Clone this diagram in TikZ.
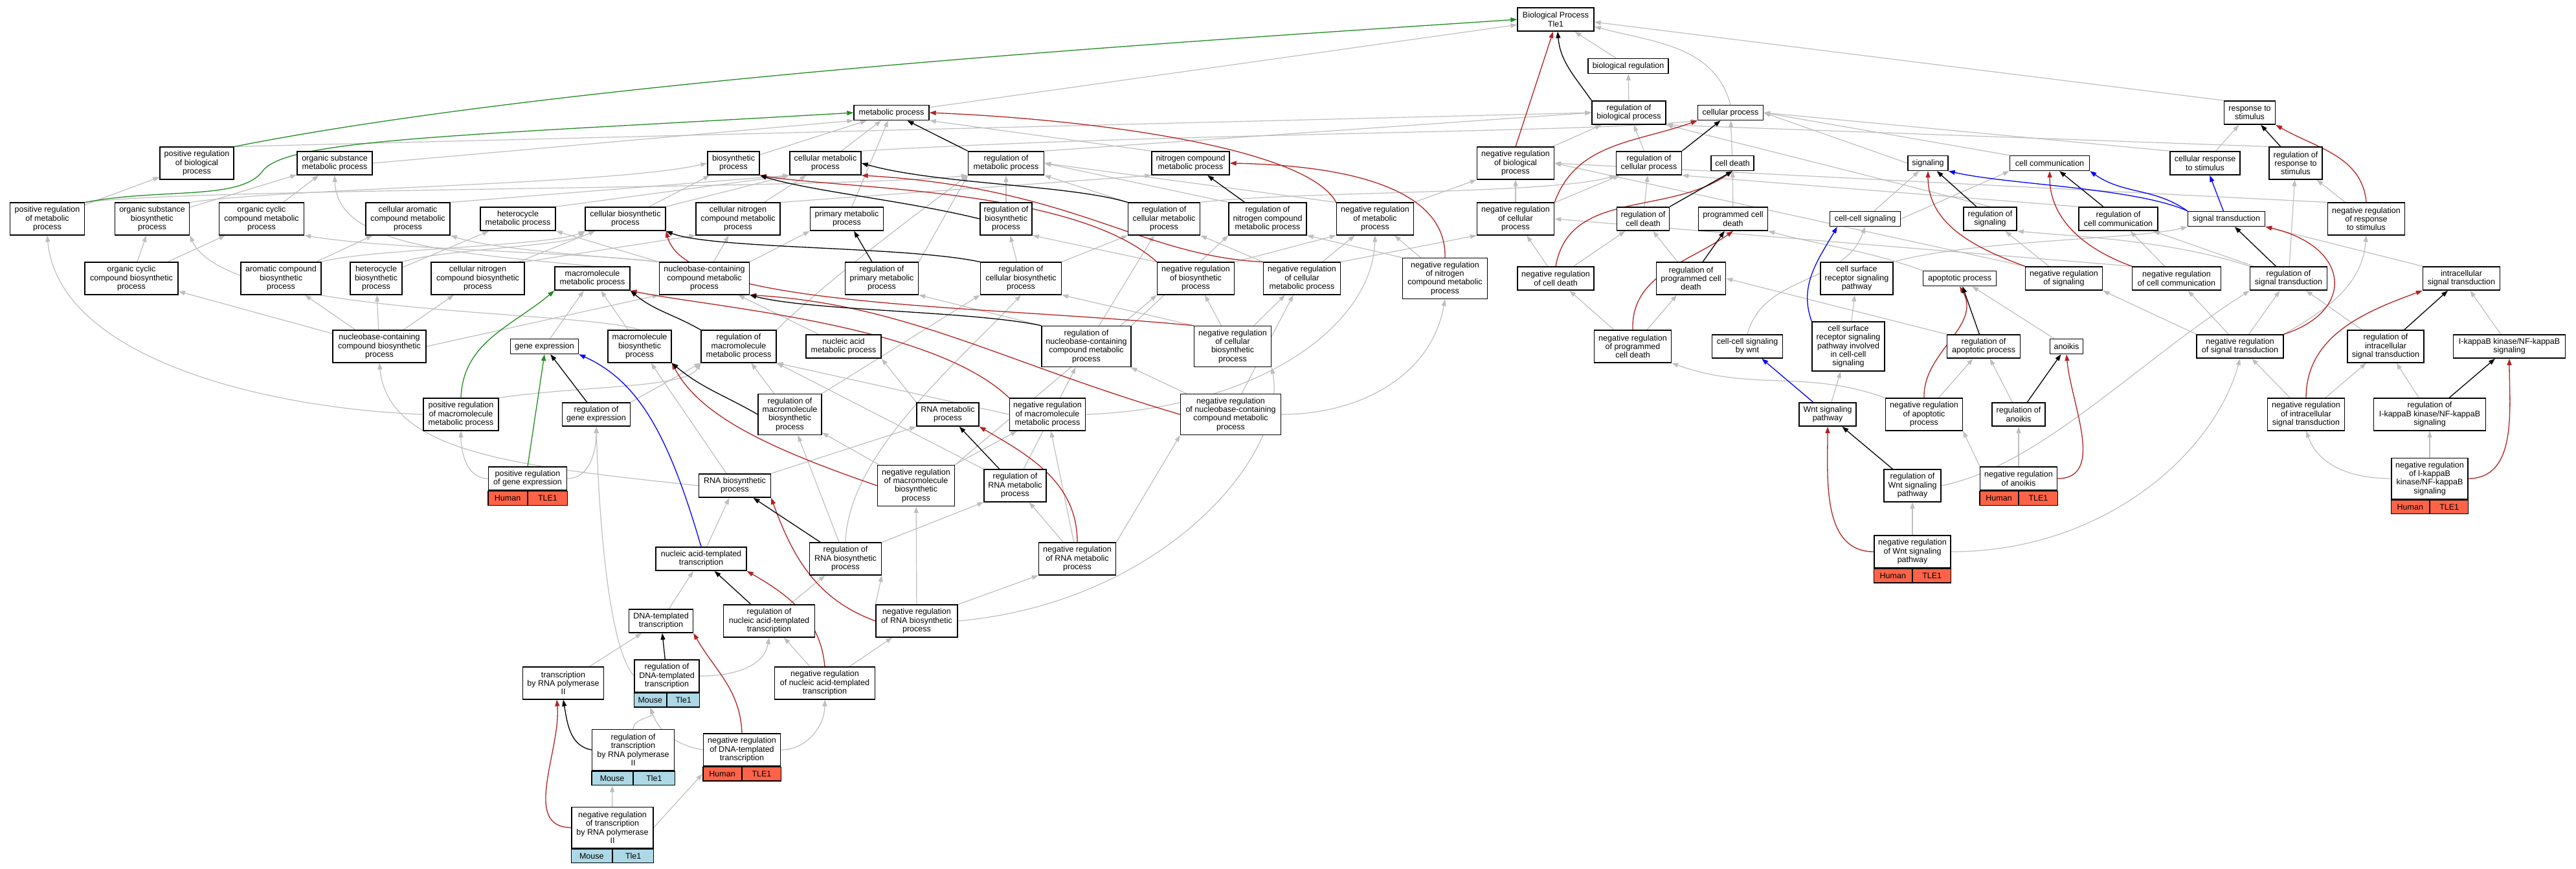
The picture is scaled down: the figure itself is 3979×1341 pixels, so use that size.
\documentclass[tikz,border=0pt]{standalone}
\usepackage{fontspec}
\setmainfont{Liberation Sans}
\usetikzlibrary{arrows.meta,backgrounds,positioning}
\definecolor{edgegray}{RGB}{190,190,190}
\definecolor{negred}{RGB}{178,34,34}
\definecolor{posgreen}{RGB}{34,139,34}
\definecolor{human}{RGB}{255,99,71}
\definecolor{mouse}{RGB}{173,216,230}
\tikzset{
		>={Triangle[length=10pt,width=7pt]},
		goterm/.style={draw=black, line width=1.4pt, fill=white, align=center,
			inner xsep=2pt, inner ysep=2pt, font=\fontsize{12.5}{13.3}\selectfont},
		l1/.style={minimum height=23},
		l2/.style={minimum height=36.3},
		l3/.style={minimum height=49.7},
		l4/.style={minimum height=63},
		l5/.style={minimum height=76.3},
		tagcell/.style={draw=black, line width=1.4pt, minimum height=21.7, inner sep=0pt,
			font=\fontsize{12.5}{13.3}\selectfont},
		isa/.style={->, draw=edgegray, line width=1.2pt},
		reg/.style={->, draw=black, line width=1.3pt},
		negreg/.style={->, draw=negred, line width=1.3pt},
		posreg/.style={->, draw=posgreen, line width=1.3pt},
		partof/.style={->, draw=blue, line width=1.3pt}
	}
% species / gene row under an annotated term
\newcommand{\speciesrow}[5]{%
	\node[tagcell, fill=#5, minimum width=#2, anchor=north east] (#1-sp) at (#1.south) {#3};
	\node[tagcell, fill=#5, minimum width=#2, anchor=north west] (#1-gn) at (#1.south) {#4};}

\begin{document}
\begin{tikzpicture}[x=1pt, y=-1pt]
	\useasboundingbox (0,0) rectangle (3979,1341);
	% top
	\node[goterm, l2, minimum width=118] (bp) at (2403,30) {Biological Process\\Tle1};
	\node[goterm, l1, minimum width=124] (bioReg) at (2515,102) {biological regulation};
	\node[goterm, l1, minimum width=116] (metProc) at (1377,174) {metabolic process};
	\node[goterm, l2, minimum width=114] (regBioProc) at (2516,174) {regulation of\\biological process};
	\node[goterm, l1, minimum width=101] (cellProc) at (2673,174) {cellular process};
	\node[goterm, l2, minimum width=79] (respStim) at (3475,174) {response to\\stimulus};
	% row 2
	\node[goterm, l3, minimum width=114] (posRegBio) at (304,252) {positive regulation\\of biological\\process};
	\node[goterm, l2, minimum width=116] (orgSubMet) at (517,252) {organic substance\\metabolic process};
	\node[goterm, l2, minimum width=80] (bioSyn) at (1133,252) {biosynthetic\\process};
	\node[goterm, l2, minimum width=110] (cellMet) at (1275,252) {cellular metabolic\\process};
	\node[goterm, l2, minimum width=117] (regMet) at (1554,252) {regulation of\\metabolic process};
	\node[goterm, l2, minimum width=120] (nitMet) at (1839,252) {nitrogen compound\\metabolic process};
	\node[goterm, l3, minimum width=119] (negRegBioProc) at (2341,252) {negative regulation\\of biological\\process};
	\node[goterm, l2, minimum width=101] (regCellProc) at (2547,252) {regulation of\\cellular process};
	\node[goterm, l1, minimum width=66] (cellDeath) at (2676,252) {cell death};
	\node[goterm, l1, minimum width=62] (signaling) at (2978,252) {signaling};
	\node[goterm, l1, minimum width=123] (cellComm) at (3166,252) {cell communication};
	\node[goterm, l2, minimum width=108] (cellResp) at (3406,252) {cellular response\\to stimulus};
	\node[goterm, l3, minimum width=82] (regResp) at (3546,252) {regulation of\\response to\\stimulus};
	% row 3
	\node[goterm, l3, minimum width=115] (posRegMet) at (73,338) {positive regulation\\of metabolic\\process};
	\node[goterm, l3, minimum width=115] (orgSubBio) at (235,338) {organic substance\\biosynthetic\\process};
	\node[goterm, l3, minimum width=131] (orgCycMet) at (404,338) {organic cyclic\\compound metabolic\\process};
	\node[goterm, l3, minimum width=130] (cellArom) at (630,338) {cellular aromatic\\compound metabolic\\process};
	\node[goterm, l2, minimum width=116] (hetMet) at (800,338) {heterocycle\\metabolic process};
	\node[goterm, l2, minimum width=124] (cellBio) at (966,338) {cellular biosynthetic\\process};
	\node[goterm, l3, minimum width=130] (cellNitMet) at (1140,338) {cellular nitrogen\\compound metabolic\\process};
	\node[goterm, l2, minimum width=113] (primMet) at (1308,338) {primary metabolic\\process};
	\node[goterm, l3, minimum width=80] (regBio) at (1554,338) {regulation of\\biosynthetic\\process};
	\node[goterm, l3, minimum width=111] (regCellMet) at (1798,338) {regulation of\\cellular metabolic\\process};
	\node[goterm, l3, minimum width=120] (regNitMet) at (1958,338) {regulation of\\nitrogen compound\\metabolic process};
	\node[goterm, l3, minimum width=119] (negRegMet) at (2124,338) {negative regulation\\of metabolic\\process};
	\node[goterm, l3, minimum width=119] (negRegCellProc) at (2341,338) {negative regulation\\of cellular\\process};
	\node[goterm, l2, minimum width=81] (regCellDeath) at (2538,338) {regulation of\\cell death};
	\node[goterm, l2, minimum width=107] (progCellDeath) at (2677,338) {programmed cell\\death};
	\node[goterm, l1, minimum width=109] (cellCellSig) at (2881,338) {cell-cell signaling};
	\node[goterm, l2, minimum width=82] (regSig) at (3074,338) {regulation of\\signaling};
	\node[goterm, l2, minimum width=122] (regCellComm) at (3272,338) {regulation of\\cell communication};
	\node[goterm, l1, minimum width=119] (sigTrans) at (3439,338) {signal transduction};
	\node[goterm, l3, minimum width=119] (negRegResp) at (3655,338) {negative regulation\\of response\\to stimulus};
	% row 4
	\node[goterm, l3, minimum width=144] (orgCycBio) at (203,430) {organic cyclic\\compound biosynthetic\\process};
	\node[goterm, l3, minimum width=124] (aromBio) at (434,430) {aromatic compound\\biosynthetic\\process};
	\node[goterm, l3, minimum width=80] (hetBio) at (581,430) {heterocycle\\biosynthetic\\process};
	\node[goterm, l3, minimum width=144] (cellNitBio) at (738,430) {cellular nitrogen\\compound biosynthetic\\process};
	\node[goterm, l2, minimum width=116] (macroMet) at (915,430) {macromolecule\\metabolic process};
	\node[goterm, l3, minimum width=139] (ncMet) at (1088,430) {nucleobase-containing\\compound metabolic\\process};
	\node[goterm, l3, minimum width=113] (regPrimMet) at (1362,430) {regulation of\\primary metabolic\\process};
	\node[goterm, l3, minimum width=125] (regCellBio) at (1577,430) {regulation of\\cellular biosynthetic\\process};
	\node[goterm, l3, minimum width=119] (negRegBio) at (1847,430) {negative regulation\\of biosynthetic\\process};
	\node[goterm, l3, minimum width=119] (negRegCellMet) at (2011,430) {negative regulation\\of cellular\\metabolic process};
	\node[goterm, l4, minimum width=131] (negRegNitMet) at (2232,430) {negative regulation\\of nitrogen\\compound metabolic\\process};
	\node[goterm, l2, minimum width=118] (negRegCellDeath) at (2403,430) {negative regulation\\of cell death};
	\node[goterm, l3, minimum width=107] (regProgCellDeath) at (2612,430) {regulation of\\programmed cell\\death};
	\node[goterm, l3, minimum width=112] (cellSurfRec) at (2868,430) {cell surface\\receptor signaling\\pathway};
	\node[goterm, l1, minimum width=113] (apoptotic) at (3027,430) {apoptotic process};
	\node[goterm, l2, minimum width=119] (negRegSig) at (3188,430) {negative regulation\\of signaling};
	\node[goterm, l2, minimum width=137] (negRegCellComm) at (3362,430) {negative regulation\\of cell communication};
	\node[goterm, l2, minimum width=119] (regSigTrans) at (3535,430) {regulation of\\signal transduction};
	\node[goterm, l2, minimum width=119] (intraSig) at (3802,430) {intracellular\\signal transduction};
	% row 5
	\node[goterm, l3, minimum width=144] (ncBio) at (586,535) {nucleobase-containing\\compound biosynthetic\\process};
	\node[goterm, l1, minimum width=105] (geneExp) at (841,535) {gene expression};
	\node[goterm, l3, minimum width=98] (macroBio) at (988,535) {macromolecule\\biosynthetic\\process};
	\node[goterm, l3, minimum width=116] (regMacroMet) at (1141,535) {regulation of\\macromolecule\\metabolic process};
	\node[goterm, l2, minimum width=116] (nucAcidMet) at (1303,535) {nucleic acid\\metabolic process};
	\node[goterm, l4, minimum width=138] (regNcMet) at (1678,535) {regulation of\\nucleobase-containing\\compound metabolic\\process};
	\node[goterm, l4, minimum width=119] (negRegCellBio) at (1904,535) {negative regulation\\of cellular\\biosynthetic\\process};
	\node[goterm, l3, minimum width=119] (negRegProgCellDeath) at (2522,535) {negative regulation\\of programmed\\cell death};
	\node[goterm, l2, minimum width=109] (cellCellWnt) at (2699,535) {cell-cell signaling\\by wnt};
	\node[goterm, l5, minimum width=112] (cellSurfCC) at (2855,535) {cell surface\\receptor signaling\\pathway involved\\in cell-cell\\signaling};
	\node[goterm, l2, minimum width=113] (regApop) at (3064,535) {regulation of\\apoptotic process};
	\node[goterm, l1, minimum width=51] (anoikis) at (3192,535) {anoikis};
	\node[goterm, l2, minimum width=134] (negRegSigTrans) at (3460,535) {negative regulation\\of signal transduction};
	\node[goterm, l3, minimum width=118] (regIntraSig) at (3685,535) {regulation of\\intracellular\\signal transduction};
	\node[goterm, l2, minimum width=173] (ikb) at (3876,535) {I-kappaB kinase/NF-kappaB\\signaling};
	% row 6
	\node[goterm, l3, minimum width=116] (posRegMacro) at (712,640) {positive regulation\\of macromolecule\\metabolic process};
	\node[goterm, l2, minimum width=105] (regGeneExp) at (921,640) {regulation of\\gene expression};
	\node[goterm, l4, minimum width=98] (regMacroBio) at (1220,640) {regulation of\\macromolecule\\biosynthetic\\process};
	\node[goterm, l2, minimum width=96] (rnaMet) at (1464,640) {RNA metabolic\\process};
	\node[goterm, l3, minimum width=117] (negRegMacroMet) at (1618,640) {negative regulation\\of macromolecule\\metabolic process};
	\node[goterm, l4, minimum width=155] (negRegNcMet) at (1901,640) {negative regulation\\of nucleobase-containing\\compound metabolic\\process};
	\node[goterm, l2, minimum width=88] (wnt) at (2823,640) {Wnt signaling\\pathway};
	\node[goterm, l3, minimum width=119] (negRegApop) at (2972,640) {negative regulation\\of apoptotic\\process};
	\node[goterm, l2, minimum width=82] (regAnoikis) at (3118,640) {regulation of\\anoikis};
	\node[goterm, l3, minimum width=119] (negRegIntraSig) at (3562,640) {negative regulation\\of intracellular\\signal transduction};
	\node[goterm, l3, minimum width=173] (regIkb) at (3753,640) {regulation of\\I-kappaB kinase/NF-kappaB\\signaling};
	% row 7
	\node[goterm, l2, minimum width=121] (posRegGeneExp) at (815,739) {positive regulation\\of gene expression};
	\node[goterm, l2, minimum width=119] (negRegAnoikis) at (3118,739) {negative regulation\\of anoikis};
	\node[goterm, l4, minimum width=118] (negRegIkb) at (3753,739) {negative regulation\\of I-kappaB\\kinase/NF-kappaB\\signaling};
	\node[goterm, l2, minimum width=111] (rnaBio) at (1135,750) {RNA biosynthetic\\process};
	\node[goterm, l4, minimum width=119] (negRegMacroBio) at (1415,750) {negative regulation\\of macromolecule\\biosynthetic\\process};
	\node[goterm, l3, minimum width=96] (regRnaMet) at (1568,750) {regulation of\\RNA metabolic\\process};
	\node[goterm, l3, minimum width=88] (regWnt) at (2954,750) {regulation of\\Wnt signaling\\pathway};
	% row 8
	\node[goterm, l3, minimum width=118] (negRegWnt) at (2954,852) {negative regulation\\of Wnt signaling\\pathway};
	\node[goterm, l2, minimum width=140] (nucAcidTx) at (1083,863) {nucleic acid-templated\\transcription};
	\node[goterm, l3, minimum width=111] (regRnaBio) at (1306,863) {regulation of\\RNA biosynthetic\\process};
	\node[goterm, l3, minimum width=119] (negRegRnaMet) at (1664,863) {negative regulation\\of RNA metabolic\\process};
	% row 9
	\node[goterm, l2, minimum width=99] (dnaTx) at (1021,959) {DNA-templated\\transcription};
	\node[goterm, l3, minimum width=141] (regNucAcidTx) at (1188,959) {regulation of\\nucleic acid-templated\\transcription};
	\node[goterm, l3, minimum width=126] (negRegRnaBio) at (1416,959) {negative regulation\\of RNA biosynthetic\\process};
	% bottom
	\node[goterm, l3, minimum width=125] (txRnaPol) at (870,1055) {transcription\\by RNA polymerase\\II};
	\node[goterm, l3, minimum width=100] (regDnaTx) at (1030,1044) {regulation of\\DNA-templated\\transcription};
	\node[goterm, l3, minimum width=155] (negRegNucAcidTx) at (1274,1055) {negative regulation\\of nucleic acid-templated\\transcription};
	\node[goterm, l4, minimum width=127] (regTxRnaPol) at (978,1158) {regulation of\\transcription\\by RNA polymerase\\II};
	\node[goterm, l3, minimum width=119] (negRegDnaTx) at (1146,1158) {negative regulation\\of DNA-templated\\transcription};
	\node[goterm, l4, minimum width=126] (negRegTxRnaPol) at (946,1278) {negative regulation\\of transcription\\by RNA polymerase\\II};
	% annotations
	\speciesrow{posRegGeneExp}{60.5}{Human}{TLE1}{human}
	\speciesrow{negRegAnoikis}{59.5}{Human}{TLE1}{human}
	\speciesrow{negRegIkb}{59}{Human}{TLE1}{human}
	\speciesrow{negRegWnt}{59}{Human}{TLE1}{human}
	\speciesrow{regDnaTx}{50}{Mouse}{Tle1}{mouse}
	\speciesrow{regTxRnaPol}{63.5}{Mouse}{Tle1}{mouse}
	\speciesrow{negRegDnaTx}{59.5}{Human}{TLE1}{human}
	\speciesrow{negRegTxRnaPol}{63}{Mouse}{Tle1}{mouse}

	\begin{pgfonlayer}{background}
		% is_a, right half
		\draw[isa] (metProc) -- (bp);
		\draw[isa] (bioReg) -- (bp);
		\draw[isa] (cellProc.north) to[out=105,in=-15] ([yshift=-11pt]bp.east);
		\draw[isa] (respStim.north west) -- ([yshift=-4pt]bp.east);
		\draw[isa] (regBioProc) -- (bioReg);
		\draw[isa] (posRegBio.north east) -- (regBioProc.west);
		\draw[isa] (regMet.north east) -- (regBioProc.west);
		\draw[isa] (negRegBioProc) -- (regBioProc);
		\draw[isa] (regCellProc) -- (regBioProc);
		\draw[isa] (regResp.north west) -- (regBioProc.south east);
		\draw[isa] (regSig.north) -- (regBioProc.south east);
		\draw[isa] (signaling.west) -- (cellProc.east);
		\draw[isa] (cellDeath) -- (cellProc);
		\draw[isa] (cellComm.north west) -- (cellProc.east);
		\draw[isa] (cellResp.north west) -- (cellProc.east);
		\draw[isa] (cellMet.north east) .. controls (1800,205) and (2450,205) .. (cellProc.south west);
		\draw[isa] (cellResp) -- (respStim);
		\draw[isa] (negRegCellProc) -- (negRegBioProc);
		\draw[isa] (negRegCellProc) -- (regCellProc);
		\draw[isa] (regCellDeath) -- (regCellProc);
		\draw[isa] (regCellComm.north west) -- (regCellProc.south east);
		\draw[isa] (regCellMet.north east) .. controls (2000,295) and (2400,300) .. (regCellProc.south west);
		\draw[isa] (negRegCellDeath) -- (negRegCellProc);
		\draw[isa] (negRegCellDeath) -- (regCellDeath);
		\draw[isa] (negRegCellMet.north east) -- (negRegCellProc.south west);
		\draw[isa] (negRegCellComm.north west) -- (negRegCellProc.east);
		\draw[isa] (negRegMet.north east) -- (negRegBioProc.south west);
		\draw[isa] (negRegSig.north west) -- (negRegBioProc.east);
		\draw[isa] (negRegResp.north west) -- (negRegBioProc.east);
		\draw[isa] (progCellDeath) -- (cellDeath);
		\draw[isa] (regProgCellDeath) -- (regCellDeath);
		\draw[isa] (negRegProgCellDeath) -- (negRegCellDeath);
		\draw[isa] (negRegProgCellDeath) -- (regProgCellDeath);
		\draw[isa] (apoptotic.north west) to[out=160,in=-15] (progCellDeath.south east);
		\draw[isa] (regApop.north west) -- (regProgCellDeath.east);
		\draw[isa] (negRegApop) -- (regApop);
		\draw[isa] (negRegApop.north west) to[out=160,in=-20] (negRegProgCellDeath.south east);
		\draw[isa] (anoikis) -- (apoptotic);
		\draw[isa] (regAnoikis) -- (regApop);
		\draw[isa] (negRegAnoikis) -- (regAnoikis);
		\draw[isa] (negRegAnoikis.north west) -- (negRegApop.south east);
		\draw[isa] (cellCellSig) -- (signaling);
		\draw[isa] (cellCellSig.east) -- (cellComm.south west);
		\draw[isa] (cellSurfRec.north east) .. controls (3050,370) and (3300,370) .. (sigTrans.south west);
		\draw[isa] (cellSurfCC) -- (cellSurfRec);
		\draw[isa] (cellCellWnt.north) to[out=75,in=-110] (cellCellSig.south);
		\draw[isa] (wnt) -- (cellSurfCC);
		\draw[isa] (regWnt.east) .. controls (3150,720) and (3300,560) .. (regSigTrans.south west);
		\draw[isa] (negRegWnt) -- (regWnt);
		\draw[isa] (negRegWnt.east) .. controls (3250,852) and (3420,700) .. (negRegSigTrans.south);
		\draw[isa] (negRegSig) -- (regSig);
		\draw[isa] (negRegCellComm) -- (regCellComm);
		\draw[isa] (regSigTrans.north west) .. controls (3350,370) and (3200,365) .. (regSig.south east);
		\draw[isa] (regSigTrans) -- (regCellComm);
		\draw[isa] (regSigTrans) -- (regResp);
		\draw[isa] (intraSig.north west) -- (sigTrans.south east);
		\draw[isa] (negRegSigTrans) -- (regSigTrans);
		\draw[isa] (negRegSigTrans.north west) -- (negRegSig.south east);
		\draw[isa] (negRegSigTrans) -- (negRegCellComm);
		\draw[isa] (negRegSigTrans.north east) to[out=30,in=-95] (negRegResp.south);
		\draw[isa] (negRegResp) -- (regResp);
		\draw[isa] (regIntraSig) -- (regSigTrans);
		\draw[isa] (ikb) -- (intraSig);
		\draw[isa] (negRegIntraSig) -- (negRegSigTrans);
		\draw[isa] (negRegIntraSig) -- (regIntraSig);
		\draw[isa] (regIkb) -- (regIntraSig);
		\draw[isa] (negRegIkb.west) to[out=180,in=-70] (negRegIntraSig.south);
		\draw[isa] (negRegIkb) -- (regIkb);
		% is_a, left half
		\draw[isa] (orgSubMet.east) -- (metProc.south west);
		\draw[isa] (bioSyn) -- (metProc);
		\draw[isa] (cellMet) -- (metProc);
		\draw[isa] (primMet) -- (metProc);
		\draw[isa] (nitMet.north west) -- (metProc.south east);
		\draw[isa] (posRegMet) -- (posRegBio);
		\draw[isa] (posRegMet.north east) .. controls (300,290) and (1300,292) .. (regMet.south west);
		\draw[isa] (orgSubBio) -- (orgSubMet);
		\draw[isa] (orgSubBio.north east) .. controls (450,290) and (950,285) .. (bioSyn.west);
		\draw[isa] (orgCycMet) -- (orgSubMet);
		\draw[isa] (cellArom.north east) -- (cellMet.south west);
		\draw[isa] (hetMet.north east) -- (cellMet.south west);
		\draw[isa] (cellBio) -- (bioSyn);
		\draw[isa] (cellBio.north east) -- (cellMet.south west);
		\draw[isa] (cellNitMet) -- (cellMet);
		\draw[isa] (cellNitMet.north east) -- (nitMet.south west);
		\draw[isa] (regBio) -- (regMet);
		\draw[isa] (regCellMet.north west) -- (regMet.south east);
		\draw[isa] (regNitMet.north west) -- (regMet.east);
		\draw[isa] (negRegMet.north west) -- (regMet.east);
		\draw[isa] (orgCycBio) -- (orgSubBio);
		\draw[isa] (orgCycBio) -- (orgCycMet);
		\draw[isa] (aromBio) -- (cellArom);
		\draw[isa] (aromBio.north east) .. controls (560,385) and (850,380) .. (cellBio.south west);
		\draw[isa] (hetBio) -- (hetMet);
		\draw[isa] (hetBio.north east) .. controls (680,385) and (880,380) .. (cellBio.south west);
		\draw[isa] (cellNitBio) -- (cellBio);
		\draw[isa] (cellNitBio.north east) -- (cellNitMet.south west);
		\draw[isa] (macroMet.north) .. controls (700,390) and (520,380) .. (orgSubMet.south);
		\draw[isa] (ncMet.north west) .. controls (900,390) and (600,385) .. (orgCycMet.south east);
		\draw[isa] (ncMet.north west) .. controls (920,395) and (760,385) .. (cellArom.south east);
		\draw[isa] (ncMet.north west) -- (hetMet.south east);
		\draw[isa] (ncMet) -- (cellNitMet);
		\draw[isa] (ncMet.north east) -- (primMet.south west);
		\draw[isa] (regPrimMet.north east) -- (regMet.south west);
		\draw[isa] (regCellBio) -- (regBio);
		\draw[isa] (regCellBio.north east) -- (regCellMet.south west);
		\draw[isa] (negRegBio.north west) -- (regBio.south east);
		\draw[isa] (negRegBio.north east) -- (negRegMet.south west);
		\draw[isa] (negRegCellMet.north west) -- (regCellMet.south east);
		\draw[isa] (negRegCellMet) -- (negRegMet);
		\draw[isa] (negRegNitMet.north west) -- (regNitMet.south east);
		\draw[isa] (negRegNitMet) -- (negRegMet);
		\draw[isa] (ncBio) -- (orgCycBio);
		\draw[isa] (ncBio) -- (aromBio);
		\draw[isa] (ncBio) -- (hetBio);
		\draw[isa] (ncBio) -- (cellNitBio);
		\draw[isa] (ncBio.east) -- (ncMet.south west);
		\draw[isa] (geneExp) -- (macroMet);
		\draw[isa] (macroBio) -- (macroMet);
		\draw[isa] (macroBio.north) .. controls (900,478) and (350,490) .. (orgSubBio.south east);
		\draw[isa] (regMacroMet.north east) .. controls (1280,430) and (1430,320) .. (regMet.south west);
		\draw[isa] (nucAcidMet) -- (ncMet);
		\draw[isa] (regNcMet) -- (regCellMet);
		\draw[isa] (regNcMet.north east) -- (regNitMet.south west);
		\draw[isa] (regNcMet.north west) -- (regPrimMet.south east);
		\draw[isa] (negRegCellBio.north west) -- (regCellBio.south east);
		\draw[isa] (negRegCellBio) -- (negRegBio);
		\draw[isa] (negRegCellBio) -- (negRegCellMet);
		\draw[isa] (posRegMacro.west) .. controls (400,630) and (90,550) .. (posRegMet.south);
		\draw[isa] (posRegMacro.north east) .. controls (900,595) and (1060,600) .. (regMacroMet.south west);
		\draw[isa] (regGeneExp.north east) -- (regMacroMet.south west);
		\draw[isa] (posRegGeneExp.west) to[out=180,in=-90] (posRegMacro.south);
		\draw[isa] (posRegGeneExp.east) to[out=0,in=-90] (regGeneExp.south);
		\draw[isa] (regMacroBio) -- (regMacroMet);
		\draw[isa] (regMacroBio.north east) -- (regCellBio.south west);
		\draw[isa] (rnaMet.north west) -- (nucAcidMet.south east);
		\draw[isa] (negRegMacroMet.west) -- (regMacroMet.south east);
		\draw[isa] (negRegMacroMet.east) .. controls (1950,630) and (2120,500) .. (negRegMet.south);
		\draw[isa] (negRegNcMet) -- (regNcMet);
		\draw[isa] (negRegNcMet) -- (negRegCellMet);
		\draw[isa] (negRegNcMet.east) to[out=0,in=-100] (negRegNitMet.south);
		\draw[isa] (rnaBio.north east) -- (rnaMet.south west);
		\draw[isa] (rnaBio.west) .. controls (800,720) and (600,700) .. (ncBio.south);
		\draw[isa] (rnaBio) -- (macroBio);
		\draw[isa] (negRegMacroBio) -- (regMacroBio);
		\draw[isa] (negRegMacroBio) -- (negRegMacroMet);
		\draw[isa] (negRegMacroBio.north east) -- (negRegBio.south west);
		\draw[isa] (regRnaMet) -- (regNcMet);
		\draw[isa] (regRnaMet.north west) -- (regMacroMet.south east);
		\draw[isa] (nucAcidTx) -- (rnaBio);
		\draw[isa] (regRnaBio) -- (regMacroBio);
		\draw[isa] (regRnaBio.north east) -- (regRnaMet.south west);
		\draw[isa] (regRnaBio.north) .. controls (1310,700) and (1480,560) .. (regCellBio.south);
		\draw[isa] (negRegRnaMet) -- (regRnaMet);
		\draw[isa] (negRegRnaMet) -- (negRegMacroMet);
		\draw[isa] (negRegRnaMet.north east) -- (negRegNcMet.south west);
		\draw[isa] (negRegRnaBio) -- (negRegMacroBio);
		\draw[isa] (negRegRnaBio.north east) -- (negRegRnaMet.south west);
		\draw[isa] (negRegRnaBio.north west) -- (regRnaBio.south east);
		\draw[isa] (negRegRnaBio.east) .. controls (1800,930) and (1990,700) .. (negRegCellBio.south east);
		\draw[isa] (dnaTx) -- (nucAcidTx);
		\draw[isa] (regNucAcidTx) -- (regRnaBio);
		\draw[isa] (regDnaTx.east) to[out=0,in=-100] (regNucAcidTx.south);
		\draw[isa] (regDnaTx.west) .. controls (940,1000) and (925,800) .. (regGeneExp.south);
		\draw[isa] (negRegNucAcidTx) -- (regNucAcidTx);
		\draw[isa] (negRegNucAcidTx) -- (negRegRnaBio);
		\draw[isa] (txRnaPol) -- (dnaTx);
		\draw[isa] (regTxRnaPol.north) to[out=90,in=-70] (regDnaTx-sp.south);
		\draw[isa] (negRegDnaTx.west) to[out=170,in=-70] (regDnaTx-sp.south);
		\draw[isa] (negRegDnaTx.east) to[out=0,in=-90] (negRegNucAcidTx.south);
		\draw[isa] (negRegTxRnaPol) -- (regTxRnaPol-sp);
		\draw[isa] (negRegTxRnaPol.east) -- (negRegDnaTx-sp.west);
		% negatively regulates
		\draw[negreg] (negRegBioProc.north) -- ([xshift=-4pt]bp.south);
		\draw[negreg] (negRegMet.north west) .. controls (2020,230) and (1700,185) .. (metProc.east);
		\draw[negreg] (negRegCellProc.north east) to[out=70,in=200] (cellProc.south west);
		\draw[negreg] (negRegCellDeath.north) to[out=80,in=215] (cellDeath.south);
		\draw[negreg] (negRegProgCellDeath.north) to[out=92,in=215] (progCellDeath.south);
		\draw[negreg] (negRegNitMet.north) .. controls (2235,280) and (2050,255) .. (nitMet.east);
		\draw[negreg] (negRegBio.north west) .. controls (1660,290) and (1300,292) .. (bioSyn.south east);
		\draw[negreg] (negRegCellMet.north west) .. controls (1760,395) and (1660,290) .. (cellMet.south east);
		\draw[negreg] (negRegCellBio.north west) .. controls (1500,470) and (1060,475) .. (cellBio.south east);
		\draw[negreg] (negRegNcMet.west) .. controls (1550,560) and (1400,470) .. (ncMet.south east);
		\draw[negreg] (negRegMacroMet.north west) .. controls (1440,500) and (1100,475) .. (macroMet.south east);
		\draw[negreg] (negRegMacroBio.west) .. controls (1180,690) and (1080,640) .. (macroBio.south east);
		\draw[negreg] (negRegRnaMet.north) to[out=90,in=-30] (rnaMet.south east);
		\draw[negreg] (negRegRnaBio.west) to[out=160,in=-70] (rnaBio.south east);
		\draw[negreg] (negRegNucAcidTx.north) to[out=95,in=-30] (nucAcidTx.south east);
		\draw[negreg] (negRegDnaTx.north) to[out=92,in=-60] (dnaTx.south east);
		\draw[negreg] (negRegTxRnaPol.west) to[out=180,in=-85] ([xshift=-10pt]txRnaPol.south);
		\draw[negreg] (negRegSig.north west) to[out=160,in=-90] (signaling.south);
		\draw[negreg] (negRegCellComm.north west) to[out=160,in=-90] (cellComm.south);
		\draw[negreg] (negRegSigTrans.north east) .. controls (3640,480) and (3630,380) .. (sigTrans.south east);
		\draw[negreg] (negRegResp.north) to[out=95,in=-30] (respStim.south east);
		\draw[negreg] (negRegApop.north) to[out=92,in=-60] (apoptotic.south);
		\draw[negreg] (negRegAnoikis.east) to[out=0,in=-85] (anoikis.south);
		\draw[negreg] (negRegWnt.west) to[out=180,in=-90] (wnt.south);
		\draw[negreg] (negRegIntraSig.north) to[out=90,in=200] (intraSig.south west);
		\draw[negreg] (negRegIkb.east) to[out=0,in=-90] (ikb.south);
		% regulates
		\draw[reg] (regBioProc.north west) to[out=125,in=-85] ([xshift=3pt]bp.south);
		\draw[reg] (regMet.north west) -- (metProc);
		\draw[reg] (regCellProc.north east) -- (cellProc);
		\draw[reg] (regCellDeath.north east) -- (cellDeath.south);
		\draw[reg] (regProgCellDeath) -- (progCellDeath);
		\draw[reg] (regBio.west) .. controls (1400,310) and (1250,295) .. (bioSyn.south east);
		\draw[reg] (regCellMet.north west) .. controls (1650,285) and (1450,285) .. (cellMet.east);
		\draw[reg] (regNitMet) -- (nitMet);
		\draw[reg] (regPrimMet) -- (primMet);
		\draw[reg] (regCellBio.north west) .. controls (1400,380) and (1100,385) .. (cellBio.south east);
		\draw[reg] (regMacroMet.north west) to[out=150,in=-40] (macroMet.south east);
		\draw[reg] (regNcMet.north west) .. controls (1500,480) and (1250,480) .. (ncMet.south east);
		\draw[reg] (regMacroBio.west) to[out=150,in=-40] (macroBio.south east);
		\draw[reg] (regGeneExp) -- (geneExp);
		\draw[reg] (regRnaMet) -- (rnaMet);
		\draw[reg] (regRnaBio) -- (rnaBio);
		\draw[reg] (regNucAcidTx) -- (nucAcidTx);
		\draw[reg] (regDnaTx) -- (dnaTx);
		\draw[reg] (regTxRnaPol.west) to[out=170,in=-80] (txRnaPol.south);
		\draw[reg] (regSig) -- (signaling);
		\draw[reg] (regCellComm) -- (cellComm);
		\draw[reg] (regSigTrans) -- (sigTrans);
		\draw[reg] (regResp) -- (respStim);
		\draw[reg] (regApop) -- (apoptotic);
		\draw[reg] (regAnoikis) -- (anoikis);
		\draw[reg] (regWnt) -- (wnt);
		\draw[reg] (regIntraSig) -- (intraSig);
		\draw[reg] (regIkb) -- (ikb);
		% positively regulates
		\draw[posreg] (posRegBio.north east) .. controls (900,120) and (1900,60) .. (bp.west);
		\draw[posreg] (posRegMet.north east) .. controls (250,290) and (370,310) .. (405,265)
			.. controls (440,215) and (700,210) .. (metProc.west);
		\draw[posreg] (posRegMacro.north) to[out=88,in=-140] (macroMet.south west);
		\draw[posreg] (posRegGeneExp.north) -- (geneExp.south);
		% part of
		\draw[partof] (nucAcidTx.north) .. controls (1035,680) and (990,590) .. (geneExp.south east);
		\draw[partof] (wnt) -- (cellCellWnt);
		\draw[partof] (cellSurfCC.north west) to[out=110,in=-120] ([xshift=12pt]cellCellSig.south west);
		\draw[partof] (sigTrans.north west) .. controls (3300,290) and (3100,285) .. (signaling.south east);
		\draw[partof] (sigTrans.north west) to[out=145,in=-35] (cellComm.south east);
		\draw[partof] (sigTrans) -- (cellResp);
	\end{pgfonlayer}
\end{tikzpicture}
\end{document}
